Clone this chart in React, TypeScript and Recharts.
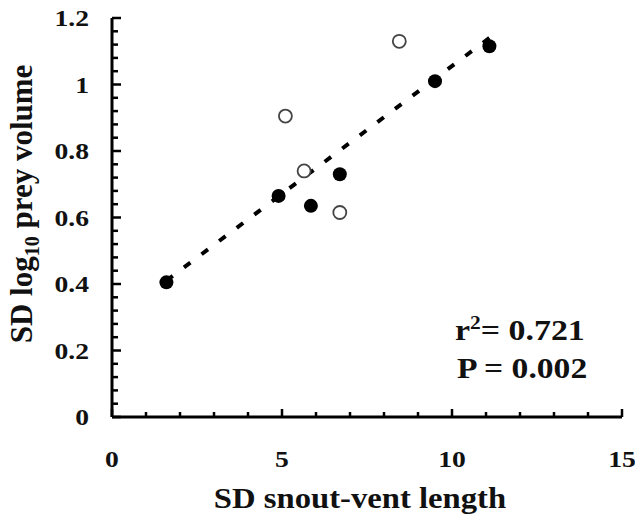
import React from 'react';
import { ScatterChart, Scatter, XAxis, YAxis, Customized } from 'recharts';

// Filled circles
const filledX = [1.6, 4.9, 5.85, 6.7, 9.5, 11.1];
const filledY = [0.405, 0.665, 0.635, 0.73, 1.01, 1.115];
// Open circles
const openX = [5.1, 5.65, 6.7, 8.45];
const openY = [0.905, 0.74, 0.615, 1.13];
// Regression line endpoints
const trendX = [1.6, 11.1];
const trendY = [0.41, 1.14];

const xTickLabels = ['0', '5', '10', '15'];
const yTickLabels = ['0', '0.2', '0.4', '0.6', '0.8', '1', '1.2'];
const xMinorTicks = Array.from({ length: 16 }, (_, i) => i);
const yMinorTicks = Array.from({ length: 31 }, (_, i) => +(i * 0.04).toFixed(2));

const filled = filledX.map((x, i) => ({ x, y: filledY[i] }));
const open = openX.map((x, i) => ({ x, y: openY[i] }));
const trend = trendX.map((x, i) => ({ x, y: trendY[i] }));

const FONT = '"Liberation Serif", "Times New Roman", serif';

const XTick = (props: any) => {
  const { x, y, payload } = props;
  const v = payload.value as number;
  const major = v % 5 === 0;
  return (
    <g>
      <line x1={x} x2={x} y1={y} y2={y - (major ? 8 : 5)} stroke="#000" strokeWidth={2.5} />
      {major && (
        <text
          transform={`translate(${x},${y + 50}) scale(1.15,1)`}
          textAnchor="middle"
          fontFamily={FONT}
          fontWeight="bold"
          fontSize={24}
          fill="#111"
        >
          {xTickLabels[v / 5]}
        </text>
      )}
    </g>
  );
};

const YTick = (props: any) => {
  const { x, y, payload } = props;
  const v = payload.value as number;
  const k = v / 0.2;
  const major = Math.abs(k - Math.round(k)) < 1e-6;
  return (
    <g>
      <line x1={x} x2={x + (major ? 9 : 6)} y1={y} y2={y} stroke="#000" strokeWidth={2.5} />
      {major && (
        <text
          transform={`translate(${x - 23},${y + 8}) scale(1.15,1)`}
          textAnchor="end"
          fontFamily={FONT}
          fontWeight="bold"
          fontSize={24}
          fill="#111"
        >
          {yTickLabels[Math.round(k)]}
        </text>
      )}
    </g>
  );
};

const Texts = () => (
  <g fontFamily={FONT} fontWeight="bold" fill="#111">
    <text transform="translate(360,508) scale(1.09,1)" textAnchor="middle" fontSize={30}>
      SD snout-vent length
    </text>
    <text transform="translate(32,204) rotate(-90)" textAnchor="middle" fontSize={31}>
      SD log<tspan fontSize={20} dy={7}>10</tspan><tspan dy={-7}> prey volume</tspan>
    </text>
    <text transform="translate(455,340) scale(1.13,1)" fontSize={30}>
      r<tspan fontSize={19} dy={-11}>2</tspan><tspan dy={11}>= 0.721</tspan>
    </text>
    <text transform="translate(457,378) scale(1.12,1)" fontSize={30}>
      P = 0.002
    </text>
  </g>
);

const FilledDot = (props: any) => <circle cx={props.cx} cy={props.cy} r={7} fill="#000" />;
const OpenDot = (props: any) => (
  <circle cx={props.cx} cy={props.cy} r={6.5} fill="#fff" stroke="#444" strokeWidth={1.8} />
);
const NoDot = () => <g />;

export default function App() {
  return (
    <div style={{ position: 'absolute', left: 0, top: 0, width: 635, height: 520, background: '#fff' }}>
      <ScatterChart width={635} height={520} margin={{ top: 18, right: 13, left: 0, bottom: 0 }}>
        <XAxis
          type="number"
          dataKey="x"
          domain={[0, 15]}
          ticks={xMinorTicks}
          interval={0}
          height={103}
          tickSize={0}
          tickMargin={0}
          tickLine={false}
          axisLine={{ stroke: '#000', strokeWidth: 3 }}
          tick={<XTick />}
          allowDataOverflow
        />
        <YAxis
          type="number"
          dataKey="y"
          domain={[0, 1.2]}
          ticks={yMinorTicks}
          interval={0}
          width={112}
          tickSize={0}
          tickMargin={0}
          tickLine={false}
          axisLine={{ stroke: '#000', strokeWidth: 3 }}
          tick={<YTick />}
          allowDataOverflow
        />
        <Scatter
          data={trend}
          line={{ stroke: '#000', strokeWidth: 4, strokeDasharray: '8 14' }}
          shape={<NoDot />}
          isAnimationActive={false}
        />
        <Scatter data={open} shape={<OpenDot />} isAnimationActive={false} />
        <Scatter data={filled} shape={<FilledDot />} isAnimationActive={false} />
        <Customized component={Texts} />
      </ScatterChart>
    </div>
  );
}
